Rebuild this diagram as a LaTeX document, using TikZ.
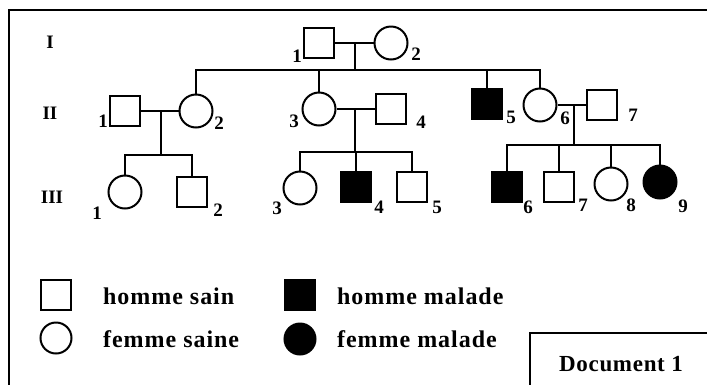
\documentclass[tikz,border=0pt]{standalone}
\usepackage{fontspec}
\setmainfont{Liberation Serif}
\tikzset{
  male/.style = {draw, line width=2pt, minimum size=30pt, inner sep=0pt},
  female/.style = {draw, circle, line width=2pt, minimum size=33pt, inner sep=0pt},
  ill/.style = {fill=black},
  num/.style = {font=\fontsize{19}{19}\selectfont\bfseries, inner sep=0pt},
  gen/.style = {font=\fontsize{19}{19}\selectfont\bfseries, inner sep=0pt},
  legtext/.style = {font=\fontsize{24}{24}\selectfont\bfseries\addfontfeature{LetterSpace=4}, anchor=west, inner sep=0pt},
  link/.style = {line width=2pt}
}
\begin{document}
\begin{tikzpicture}[x=1pt, y=-1pt]
\useasboundingbox (0,0) rectangle (707,384);
\draw[line width=2.6pt] (9,400) -- (9,10) -- (720,10); % frame
% generations
\node[gen] (gI) at (50,42) {I};
\node[gen] (gII) at (50,113) {II};
\node[gen] (gIII) at (52,197) {III};
% generation I
\node[male] (i1) at (319,43) {};
\node[female] (i2) at (391,43) {};
\node[num] (l-i1) at (297,56) {1};
\node[num] (l-i2) at (416,54) {2};
% generation II
\node[male] (ii1) at (125,111) {};
\node[female] (ii2) at (196,111) {};
\node[female] (ii3) at (319,109) {};
\node[male] (ii4) at (391,109) {};
\node[male, ill] (ii5) at (487,104) {};
\node[female] (ii6) at (540,105) {};
\node[male] (ii7) at (602,105) {};
\node[num] (l-ii1) at (103,121) {1};
\node[num] (l-ii2) at (219,123) {2};
\node[num] (l-ii3) at (294,121) {3};
\node[num] (l-ii4) at (421,122) {4};
\node[num] (l-ii5) at (511,117) {5};
\node[num] (l-ii6) at (565,118) {6};
\node[num] (l-ii7) at (633,115) {7};
% generation III
\node[female] (iii1) at (125,192) {};
\node[male] (iii2) at (192,192) {};
\node[female] (iii3) at (300,188) {};
\node[male, ill] (iii4) at (356,187) {};
\node[male] (iii5) at (412,187) {};
\node[male, ill] (iii6) at (507,187) {};
\node[male] (iii7) at (559,187) {};
\node[female] (iii8) at (611,184) {};
\node[female, ill] (iii9) at (660,182) {};
\node[num] (l-iii1) at (97,213) {1};
\node[num] (l-iii2) at (218,210) {2};
\node[num] (l-iii3) at (277,208) {3};
\node[num] (l-iii4) at (379,207) {4};
\node[num] (l-iii5) at (437,207) {5};
\node[num] (l-iii6) at (528,207) {6};
\node[num] (l-iii7) at (583,205) {7};
\node[num] (l-iii8) at (631,205) {8};
\node[num] (l-iii9) at (683,206) {9};
% couples and children
\coordinate (m1) at (355,43);
\coordinate (s1) at (355,70);
\draw[link] (i1) -- (i2);
\draw[link] (m1) -- (s1);
\draw[link] (ii2.north) |- (s1) -| (ii6.north);
\draw[link] (ii3.north) -- (ii3.north |- s1);
\draw[link] (ii5.north) -- (ii5.north |- s1);

\coordinate (m2) at (161,111);
\coordinate (s2) at (161,155);
\draw[link] (ii1) -- (ii2);
\draw[link] (m2) -- (s2);
\draw[link] (iii1.north) |- (s2) -| (iii2.north);

\coordinate (m3) at (355,109);
\coordinate (s3) at (355,152);
\draw[link] (ii3) -- (ii4);
\draw[link] (m3) -- (s3);
\draw[link] (iii3.north) |- (s3) -| (iii5.north);
\draw[link] (iii4.north) -- (iii4.north |- s3);

\coordinate (m4) at (574,105);
\coordinate (s4) at (574,145);
\draw[link] (ii6) -- (ii7);
\draw[link] (m4) -- (s4);
\draw[link] (iii6.north) |- (s4) -| (iii9.north);
\draw[link] (iii7.north) -- (iii7.north |- s4);
\draw[link] (iii8.north) -- (iii8.north |- s4);
% legend
\node[male] (leg-hs) at (56,295) {};
\node[female, minimum size=31pt] (leg-fs) at (56,338) {};
\node[male, ill] (leg-hm) at (300,295) {};
\node[female, ill, minimum size=31pt] (leg-fm) at (300,339) {};
\node[legtext] (t-hs) at (103,296) {homme sain};
\node[legtext] (t-fs) at (103,339) {femme saine};
\node[legtext] (t-hm) at (337,296) {homme malade};
\node[legtext] (t-fm) at (337,339) {femme malade};
% document box
\draw[line width=1.8pt] (530,400) -- (530,333) -- (720,333);
\node[font=\fontsize{23}{23}\selectfont\bfseries\addfontfeature{LetterSpace=3}] (doc) at (621,364) {Document 1};
\end{tikzpicture}
\end{document}
